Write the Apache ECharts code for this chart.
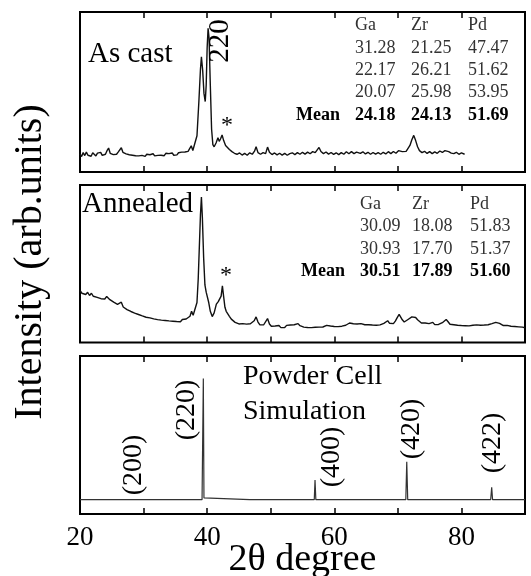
<!DOCTYPE html>
<html>
<head>
<meta charset="utf-8">
<script src="https://cdn.jsdelivr.net/npm/echarts@6/dist/echarts.min.js"></script>
<style>
  html, body { margin: 0; padding: 0; background: #fff; }
  #xrd { width: 531px; height: 576px; }
</style>
</head>
<body>
<div id="xrd"></div>
<script>
  // 2theta range and tick labels (shared x axis)
  var xMin = 20, xMax = 90, xStep = 10
  var xTickLabels = [20, 40, 60, 80]

  // intensities in % of panel height, [2theta, I]
  var asCast = [
    [20.0, 12.8], [20.25, 11.2], [20.5, 13.6], [20.75, 11.8], [21.0, 13.9], [21.25, 12.0], [21.5, 13.2], [21.75, 11.4],
    [22.0, 13.5], [22.25, 12.4], [22.5, 11.6], [22.75, 13.3], [23.0, 12.1], [23.25, 13.8], [23.5, 11.9], [23.75, 13.0],
    [24.0, 12.6], [24.25, 14.8], [24.5, 16.4], [24.75, 13.2], [25.0, 14.0], [25.25, 12.4], [25.5, 13.6], [25.75, 12.6],
    [26.0, 13.9], [26.25, 14.6], [26.5, 16.6], [26.75, 13.8], [27.0, 14.6], [27.25, 12.8], [27.5, 13.9], [27.75, 12.3],
    [28.0, 13.4], [28.25, 12.0], [28.5, 13.1], [28.75, 11.7], [29.0, 12.9], [29.25, 11.6], [29.5, 12.7], [29.75, 11.9],
    [30.0, 12.4], [30.25, 11.3], [30.5, 12.6], [30.75, 11.5], [31.0, 12.3], [31.25, 11.8], [31.5, 12.9], [31.75, 11.6],
    [32.0, 12.7], [32.25, 11.9], [32.5, 13.0], [32.75, 12.0], [33.0, 12.8], [33.25, 11.7], [33.5, 13.2], [33.75, 12.1],
    [34.0, 13.0], [34.25, 12.3], [34.5, 13.4], [34.75, 12.0], [35.0, 13.1], [35.25, 12.2], [35.5, 13.5], [35.75, 12.6],
    [36.0, 13.9], [36.25, 12.8], [36.5, 14.0], [36.75, 13.1], [37.0, 14.4], [37.25, 15.2], [37.5, 17.8], [37.75, 14.9],
    [38.05, 16.0], [38.4, 24], [38.7, 45], [38.95, 65], [39.1, 72.5], [39.3, 64], [39.5, 50], [39.7, 45],
    [39.85, 55], [40.0, 78], [40.15, 90], [40.3, 84], [40.5, 55], [40.7, 28], [40.9, 18.5], [41.1, 17.2],
    [41.4, 19.5], [41.7, 22.8], [41.9, 20.5], [42.1, 22.0], [42.35, 24.5], [42.6, 21.0], [42.9, 18.0], [43.2, 16.8],
    [43.5, 15.5], [43.9, 14.2], [44.3, 13.2], [44.7, 12.6], [45.1, 13.4], [45.5, 12.1], [45.9, 13.1], [46.3, 12.0],
    [46.7, 13.5], [47.1, 12.6], [47.45, 14.5], [47.7, 17.2], [48.0, 13.6], [48.4, 12.6], [48.8, 13.6], [49.2, 13.0],
    [49.5, 17.0], [49.8, 13.8], [50.2, 12.4], [50.6, 13.4], [51.0, 12.2], [51.4, 13.2], [51.8, 12.1], [52.2, 13.1],
    [52.6, 12.0], [53.0, 13.0], [53.4, 13.5], [53.8, 12.4], [54.2, 13.6], [54.6, 12.6], [55.0, 13.8], [55.4, 12.7],
    [55.8, 13.9], [56.2, 12.9], [56.6, 14.2], [57.0, 13.6], [57.3, 14.8], [57.6, 16.8], [57.9, 14.3], [58.3, 13.0],
    [58.7, 14.0], [59.1, 12.7], [59.5, 13.7], [59.9, 12.5], [60.3, 13.5], [60.7, 12.4], [61.1, 13.6], [61.5, 12.6],
    [61.9, 14.1], [62.3, 12.9], [62.7, 14.2], [63.1, 13.0], [63.5, 13.9], [63.8, 14.8], [64.1, 13.1], [64.5, 14.1],
    [64.9, 12.8], [65.3, 13.8], [65.7, 12.6], [66.1, 13.7], [66.5, 12.7], [66.9, 13.6], [67.3, 12.6], [67.7, 13.8],
    [68.1, 12.8], [68.5, 14.2], [68.9, 13.0], [69.3, 14.3], [69.7, 13.2], [70.1, 14.8], [70.4, 15.3], [70.7, 14.2],
    [71.0, 14.8], [71.3, 14.4], [71.6, 15.6], [71.9, 18.0], [72.2, 21.5], [72.5, 24.2], [72.8, 21.0], [73.1, 17.2],
    [73.4, 14.8], [73.8, 13.6], [74.2, 14.4], [74.6, 13.1], [75.0, 14.2], [75.4, 13.0], [75.8, 14.1], [76.2, 13.2],
    [76.6, 14.6], [77.0, 13.7], [77.4, 14.8], [77.7, 15.8], [78.0, 14.2], [78.4, 13.3], [78.8, 13.0], [79.2, 13.8],
    [79.6, 12.6], [80.0, 13.4], [80.5, 12.6]
  ]

  var annealed = [
    [20.0, 34.6], [20.3, 32.8], [20.6, 34.0], [20.9, 32.0], [21.2, 33.4], [21.5, 31.4], [21.8, 32.8], [22.1, 30.9],
    [22.4, 32.0], [22.7, 30.2], [23.0, 31.3], [23.3, 29.4], [23.6, 30.6], [23.9, 29.2], [24.2, 30.8], [24.45, 31.8],
    [24.7, 28.8], [25.0, 28.6], [25.3, 27.2], [25.6, 27.6], [25.9, 25.9], [26.2, 26.4], [26.5, 27.2], [26.8, 24.2],
    [27.1, 24.3], [27.4, 22.6], [27.7, 23.0], [28.0, 21.4], [28.3, 21.9], [28.6, 20.4], [28.9, 20.9], [29.2, 19.5],
    [29.5, 19.9], [29.8, 18.6], [30.1, 19.0], [30.4, 17.8], [30.7, 18.5], [31.0, 17.4], [31.3, 18.0], [31.6, 16.8],
    [31.9, 17.6], [32.2, 16.3], [32.5, 17.4], [32.8, 16.0], [33.1, 17.1], [33.4, 15.8], [33.7, 16.9], [34.0, 15.5],
    [34.3, 16.7], [34.6, 15.3], [34.9, 16.5], [35.2, 15.1], [35.5, 16.3], [35.8, 15.0], [36.1, 16.4], [36.4, 15.2],
    [36.7, 16.7], [37.0, 16.6], [37.3, 18.4], [37.55, 21.5], [37.8, 19.0], [38.1, 19.2], [38.4, 27], [38.6, 42],
    [38.8, 65], [38.95, 82], [39.1, 93], [39.25, 80], [39.45, 55], [39.65, 38], [39.85, 33.5], [40.05, 32.5],
    [40.25, 27], [40.5, 21.5], [40.8, 18.2], [41.1, 20.5], [41.45, 26], [41.75, 27.6], [42.0, 26.5], [42.2, 31],
    [42.4, 37.4], [42.6, 30.5], [42.8, 24], [43.0, 21.5], [43.2, 21.3], [43.5, 18.4], [43.8, 16.6], [44.1, 15.4],
    [44.4, 14.6], [44.7, 14.0], [45.0, 13.6], [45.3, 12.8], [45.6, 13.8], [45.9, 12.6], [46.2, 13.5], [46.5, 12.5],
    [46.8, 13.7], [47.1, 13.6], [47.4, 15.6], [47.7, 18.0], [48.0, 14.8], [48.3, 13.0], [48.6, 13.2], [48.9, 13.1],
    [49.2, 13.8], [49.5, 17.0], [49.8, 13.6], [50.1, 12.2], [50.4, 12.4], [50.7, 12.3], [51.0, 11.4], [51.3, 12.6],
    [51.6, 11.3], [51.9, 12.5], [52.2, 11.4], [52.5, 12.7], [52.8, 11.7], [53.1, 12.9], [53.4, 11.9], [53.7, 13.1],
    [54.0, 12.4], [54.3, 13.8], [54.6, 12.5], [54.9, 12.8], [55.2, 11.6], [55.5, 12.7], [55.8, 11.4], [56.1, 12.4],
    [56.4, 11.3], [56.7, 12.5], [57.0, 11.5], [57.3, 12.7], [57.6, 11.6], [57.9, 12.8], [58.2, 11.7], [58.5, 12.6],
    [58.8, 12.7], [59.1, 13.4], [59.4, 12.3], [59.7, 12.2], [60.0, 12.0], [60.3, 12.0], [60.6, 11.9], [60.9, 12.1],
    [61.2, 12.2], [61.5, 12.5], [61.8, 12.8], [62.1, 13.6], [62.4, 14.2], [62.7, 13.0], [63.0, 13.7], [63.3, 12.6],
    [63.6, 13.6], [63.9, 12.8], [64.2, 13.8], [64.5, 14.4], [64.8, 13.1], [65.1, 12.4], [65.4, 13.1], [65.7, 12.0],
    [66.0, 12.9], [66.3, 11.9], [66.6, 12.8], [66.9, 12.0], [67.2, 13.0], [67.5, 13.0], [67.8, 14.0], [68.1, 14.8],
    [68.4, 15.6], [68.7, 14.0], [69.0, 14.8], [69.3, 13.8], [69.6, 15.4], [69.9, 17.6], [70.2, 19.6], [70.45, 19.2],
    [70.7, 16.2], [71.0, 14.8], [71.3, 15.6], [71.6, 16.4], [71.9, 17.2], [72.2, 18.0], [72.5, 18.6], [72.8, 17.6],
    [73.1, 16.2], [73.4, 15.0], [73.7, 14.2], [74.0, 13.4], [74.3, 14.2], [74.6, 13.0], [74.9, 13.8], [75.2, 14.4],
    [75.5, 14.6], [75.8, 13.2], [76.1, 13.2], [76.4, 13.3], [76.7, 14.0], [77.0, 14.4], [77.3, 15.2], [77.6, 16.4],
    [77.9, 15.0], [78.2, 13.4], [78.5, 12.4], [78.8, 13.1], [79.1, 12.0], [79.4, 12.8], [79.7, 11.7], [80.0, 12.6],
    [80.3, 11.6], [80.6, 12.5], [80.9, 11.5], [81.2, 12.4], [81.5, 11.7], [81.8, 12.8], [82.1, 12.1], [82.4, 13.0],
    [82.7, 12.0], [83.0, 12.8], [83.3, 11.9], [83.6, 12.9], [83.9, 12.1], [84.2, 13.1], [84.5, 12.8], [84.8, 13.8],
    [85.1, 13.7], [85.4, 14.6], [85.7, 14.8], [86.0, 14.0], [86.3, 13.2], [86.6, 12.6], [86.9, 12.2], [87.2, 12.7],
    [87.5, 11.6], [87.8, 12.2], [88.1, 11.3], [88.4, 12.0], [88.7, 11.1], [89.0, 11.8], [89.3, 11.0], [89.6, 11.6],
    [90.0, 11.2]
  ]

  // powder cell simulation
  var simulation = [
    [20.0, 10.4], [23.9, 10.4], [24.0, 10.8], [24.1, 10.4], [27.4, 10.4], [27.55, 11.5], [27.7, 10.4],
    [39.2, 10.4], [39.3, 11.5], [39.4, 86], [39.5, 11.5], [39.6, 10.4], [46.7, 10.4], [46.8, 10.9], [46.9, 10.4],
    [56.85, 10.4], [56.97, 22.7], [57.1, 10.4], [64.3, 10.4], [64.4, 10.9], [64.5, 10.4],
    [71.25, 10.4], [71.4, 34.1], [71.55, 10.4], [84.6, 10.4], [84.76, 18.2], [84.9, 10.4], [90.0, 10.4]
  ]
  var simPeaks = ['(200)', '(220)', '(400)', '(420)', '(422)']

  // EDX composition tables
  var elements = ['Ga', 'Zr', 'Pd']
  var asCastRows = [['31.28', '21.25', '47.47'], ['22.17', '26.21', '51.62'], ['20.07', '25.98', '53.95']]
  var asCastMean = ['24.18', '24.13', '51.69']
  var annealedRows = [['30.09', '18.08', '51.83'], ['30.93', '17.70', '51.37']]
  var annealedMean = ['30.51', '17.89', '51.60']

  var serif = '"Liberation Serif", "Times New Roman", serif'

  function txt(str, x, y, size, opt) {
    opt = opt || {}
    return {
      type: 'text',
      x: x,
      y: y,
      rotation: opt.rot || 0,
      z: 100,
      style: {
        text: str,
        font: (opt.bold ? 'bold ' : '') + size + 'px ' + serif,
        fill: opt.color || '#000',
        textAlign: opt.align || 'left',
        textVerticalAlign: 'middle'
      }
    }
  }

  function table(rows, mean, colX, meanX, rowY) {
    var out = []
    elements.forEach(function (e, j) { out.push(txt(e, colX[j], rowY[0], 18, {color: '#333'})) })
    rows.forEach(function (r, i) {
      r.forEach(function (v, j) { out.push(txt(v, colX[j], rowY[i + 1], 18, {color: '#333'})) })
    })
    var last = rowY[rowY.length - 1]
    out.push(txt('Mean', meanX, last, 18, {bold: true, align: 'right'}))
    mean.forEach(function (v, j) { out.push(txt(v, colX[j], last, 18, {bold: true})) })
    return out
  }

  var grids = [
    {left: 80, right: 6, top: 12, height: 160},
    {left: 80, right: 6, top: 185, height: 157.5},
    {left: 80, right: 6, top: 356, height: 158}
  ]
  // intensity range shown in each panel
  var yRanges = [[1.7, 100], [2, 100.5], [1.5, 100]]

  var xAxes = [], yAxes = []
  grids.forEach(function (g, i) {
    g.show = true
    g.borderColor = '#000'
    g.borderWidth = 2
    g.outerBoundsMode = 'none'
    ;['bottom', 'top'].forEach(function (pos) {
      xAxes.push({
        type: 'value',
        gridIndex: i,
        position: pos,
        min: xMin,
        max: xMax,
        interval: xStep,
        splitLine: {show: false},
        axisLine: {show: false},
        axisTick: {show: true, inside: true, length: 6, lineStyle: {color: '#000', width: 1.5}},
        axisLabel: {
          show: i === 2 && pos === 'bottom',
          margin: 10,
          color: '#000',
          fontSize: 27,
          fontFamily: serif,
          formatter: function (v) { return xTickLabels.indexOf(v) > -1 ? v : '' }
        },
        name: i === 2 && pos === 'bottom' ? '2θ degree' : '',
        nameLocation: 'middle',
        nameGap: 27,
        nameMoveOverlap: false,
        nameTextStyle: {color: '#000', fontSize: 38, fontFamily: serif}
      })
    })
    yAxes.push({type: 'value', gridIndex: i, min: yRanges[i][0], max: yRanges[i][1], show: false})
  })

  function line(data, idx, color, w) {
    return {
      type: 'line',
      xAxisIndex: idx * 2,
      yAxisIndex: idx,
      data: data,
      showSymbol: false,
      animation: false,
      lineStyle: {color: color, width: w}
    }
  }

  var graphics = [
    txt('Intensity (arb.units)', 30, 262, 40, {rot: Math.PI / 2, align: 'center'}),
    txt('As cast', 88, 54, 29),
    txt('220', 220, 41, 29, {rot: Math.PI / 2, align: 'center'}),
    txt('*', 227, 126, 24, {align: 'center'}),
    txt('Annealed', 82, 204, 29),
    txt('*', 226, 276, 24, {align: 'center'}),
    txt('Powder Cell', 243, 377, 28),
    txt('Simulation', 243, 412, 28),
    txt(simPeaks[0], 134, 465, 28, {rot: Math.PI / 2, align: 'center'}),
    txt(simPeaks[1], 187, 410, 28, {rot: Math.PI / 2, align: 'center'}),
    txt(simPeaks[2], 332, 457, 28, {rot: Math.PI / 2, align: 'center'}),
    txt(simPeaks[3], 412, 429, 28, {rot: Math.PI / 2, align: 'center'}),
    txt(simPeaks[4], 493, 443, 28, {rot: Math.PI / 2, align: 'center'})
  ]
  graphics = graphics
    .concat(table(asCastRows, asCastMean, [355, 411, 468], 340, [25, 48, 70, 92, 115]))
    .concat(table(annealedRows, annealedMean, [360, 412, 470], 345, [204, 226.5, 249, 271]))

  var chart = echarts.init(document.getElementById('xrd'))
  chart.setOption({
    animation: false,
    backgroundColor: '#fff',
    grid: grids,
    xAxis: xAxes,
    yAxis: yAxes,
    series: [
      line(asCast, 0, '#111', 1.4),
      line(annealed, 1, '#111', 1.4),
      line(simulation, 2, '#333', 1.2)
    ],
    graphic: graphics
  })
</script>
</body>
</html>
